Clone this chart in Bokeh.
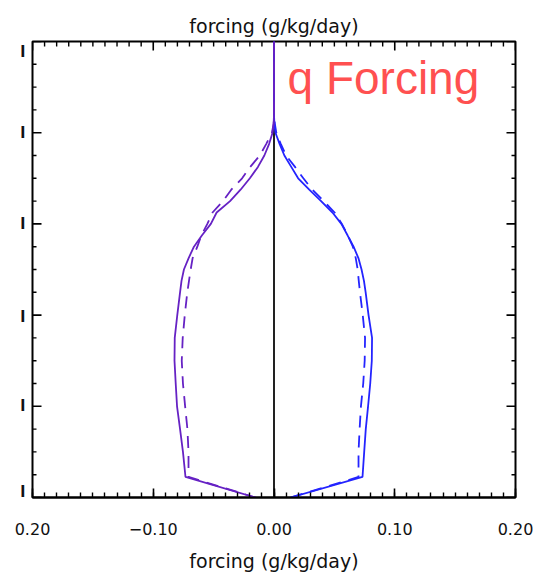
import math
from bokeh.plotting import figure
from bokeh.models import Range1d, LinearAxis, FixedTicker, Span, Label
from bokeh.embed import file_html
from bokeh.resources import INLINE

# ---- data ----
levels = [0, 160, 180, 200, 225, 250, 275, 300, 325, 350, 375, 400, 425, 450,
          475, 500, 525, 550, 600, 650, 700, 750, 800, 850, 900, 955, 1000]

blue_solid = [0, 0, 0.0003, 0.0012, 0.0047, 0.0086, 0.0143, 0.0200, 0.0292, 0.0390,
              0.0484, 0.0558, 0.0609, 0.0659, 0.0699, 0.0725, 0.0745, 0.0759, 0.0783,
              0.0812, 0.0810, 0.0797, 0.0779, 0.0760, 0.0747, 0.0733, 0.0137]
blue_dashed = [0, 0, 0.0007, 0.0019, 0.0057, 0.0100, 0.0174, 0.0243, 0.0318, 0.0412,
               0.0502, 0.0562, 0.0612, 0.0653, 0.0677, 0.0693, 0.0702, 0.0712, 0.0735,
               0.0754, 0.0751, 0.0739, 0.0720, 0.0709, 0.0700, 0.0700, 0.0137]
purple_solid = [0, 0, -0.0003, -0.0012, -0.0041, -0.0080, -0.0133, -0.0200, -0.0277,
                -0.0364, -0.0475, -0.0523, -0.0596, -0.0663, -0.0707, -0.0746, -0.0766,
                -0.0778, -0.0801, -0.0822, -0.0824, -0.0814, -0.0803, -0.0778, -0.0754,
                -0.0733, -0.0153]
purple_dashed = [0, 0, -0.0003, -0.0017, -0.0065, -0.0118, -0.0197, -0.0264, -0.0354,
                 -0.0423, -0.0509, -0.0552, -0.0602, -0.0635, -0.0674, -0.0690, -0.0704,
                 -0.0718, -0.0739, -0.0756, -0.0764, -0.0754, -0.0736, -0.0717, -0.0708,
                 -0.0708, -0.0153]

x_ticks = [-0.2, -0.1, 0.0, 0.1, 0.2]
x_tick_labels = ["0.20", "\u22120.10", "0.00", "0.10", "0.20"]
x_minor = [round(-0.2 + 0.01 * i, 2) for i in range(41)]
y_ticks = [0, 200, 400, 600, 800, 1000]
y_minor = list(range(0, 1001, 50))
# the left tick labels are cut off in the reference: only a sliver of each shows
y_label_pos = [24, 200, 400, 605, 800, 987]
y_tick_stubs = ["l", "l", "l", "l", "l", "l"]

axis_title = "forcing (g/kg/day)"
panel_label = "q Forcing"

BLUE = "#2424ff"
PURPLE = "#6622c4"
FONT = "DejaVu Sans"

p = figure(width=548, height=575, output_backend="svg", toolbar_location=None,
           x_range=Range1d(-0.2, 0.2), y_range=Range1d(1000, 0),
           x_axis_location=None, y_axis_location=None,
           min_border_left=32, min_border_right=33, min_border_top=41, min_border_bottom=78)
p.xgrid.visible = False
p.ygrid.visible = False
p.outline_line_color = "black"
p.outline_line_width = 2
p.background_fill_color = "white"
p.border_fill_color = "white"

# bottom axis: ticks + labels + title
bottom = LinearAxis(ticker=FixedTicker(ticks=x_ticks, minor_ticks=x_minor))
bottom.major_tick_in = 9
bottom.major_tick_out = 0
bottom.minor_tick_in = 5
bottom.minor_tick_out = 0
bottom.axis_line_width = 2
bottom.major_tick_line_width = 1.6
bottom.minor_tick_line_width = 1.4
bottom.major_label_overrides = {t: s for t, s in zip(x_ticks, x_tick_labels)}
bottom.major_label_text_font = FONT
bottom.major_label_text_font_size = "16px"
bottom.major_label_text_color = "#111111"
bottom.major_label_standoff = 25
bottom.axis_label = axis_title
bottom.axis_label_text_font = FONT
bottom.axis_label_text_font_size = "19px"
bottom.axis_label_text_font_style = "normal"
bottom.axis_label_text_color = "#111111"
bottom.axis_label_standoff = 12
p.add_layout(bottom, "below")

# top axis: title only (its ticks are drawn below as clipped markers)
top = LinearAxis(ticker=FixedTicker(ticks=[], minor_ticks=[]))
top.axis_line_color = None
top.major_tick_line_color = None
top.minor_tick_line_color = None
top.major_tick_in = 0
top.major_tick_out = 0
top.minor_tick_in = 0
top.minor_tick_out = 0
top.major_label_standoff = 0
top.axis_label = axis_title
top.axis_label_text_font = FONT
top.axis_label_text_font_size = "19px"
top.axis_label_text_font_style = "normal"
top.axis_label_text_color = "#111111"
top.axis_label_standoff = 5
p.add_layout(top, "above")

# left axis: only the cut-off label slivers
left = LinearAxis(ticker=FixedTicker(ticks=y_label_pos, minor_ticks=[]))
left.major_tick_in = 0
left.major_tick_out = 0
left.minor_tick_in = 0
left.minor_tick_out = 0
left.axis_line_color = None
left.major_tick_line_color = None
left.minor_tick_line_color = None
left.major_label_overrides = {t: s for t, s in zip(y_label_pos, y_tick_stubs)}
left.major_label_text_font = FONT
left.major_label_text_font_size = "15px"
left.major_label_text_font_style = "bold"
left.major_label_text_color = "#111111"
left.major_label_standoff = 7
p.add_layout(left, "left")

# inward tick marks on the top, left and right edges (half of each marker is clipped)
x_min_top = [v for v in x_minor if v not in x_ticks]
y_min_side = [v for v in y_minor if v not in y_ticks]
vert = math.pi / 2
p.scatter(x_ticks, [0] * len(x_ticks), marker="dash", size=18, angle=vert,
          line_color="black", line_width=1.6)
p.scatter(x_min_top, [0] * len(x_min_top), marker="dash", size=10, angle=vert,
          line_color="black", line_width=1.4)
for edge in (-0.2, 0.2):
    p.scatter([edge] * len(y_ticks), y_ticks, marker="dash", size=18,
              line_color="black", line_width=1.6)
    p.scatter([edge] * len(y_min_side), y_min_side, marker="dash", size=8,
              line_color="black", line_width=1.4)

# zero reference line
p.add_layout(Span(location=0, dimension="height", line_color="#222222",
                  line_width=2, level="underlay"))

# profiles
p.line(blue_solid, levels, line_color=BLUE, line_width=1.8)
p.line(blue_dashed, levels, line_color=BLUE, line_width=1.8, line_dash="12 8")
p.line(purple_solid, levels, line_color=PURPLE, line_width=1.8)
p.line(purple_dashed, levels, line_color=PURPLE, line_width=1.8, line_dash="12 8")

p.add_layout(Label(x=0.0112, y=81, text=panel_label, text_font="Liberation Sans",
                   text_font_size="46px", text_color="#ff5050",
                   text_align="left", text_baseline="alphabetic"))

open("out.html", "w").write(file_html(p, INLINE))
